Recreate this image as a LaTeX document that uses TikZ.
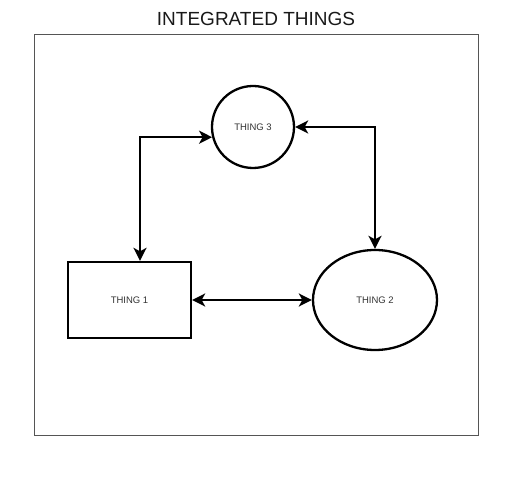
\documentclass[tikz,border=0pt]{standalone}
\usepackage{fontspec}
\setmainfont{Liberation Sans}
\usetikzlibrary{arrows.meta,shapes.geometric}
\definecolor{lbl}{HTML}{333333}
\definecolor{frame}{HTML}{555555}
\tikzset{
  thing/.style={draw=black, line width=2.3pt, inner sep=0pt, text=lbl, font=\fontsize{9.5}{11}\selectfont},
  tip/.tip={Stealth[length=13pt,width=13pt,inset=3.5pt]},
  conn/.style={line width=2.3pt, tip-tip},
}
\begin{document}
\begin{tikzpicture}[x=1pt,y=-1pt]
\useasboundingbox (0,0) rectangle (512,478);
\node[font=\fontsize{19}{22}\selectfont, text=black!90] (title) at (256,19) {INTEGRATED THINGS};
\draw[frame, line width=0.8pt] (34,34) rectangle (478,435);
\node[thing, circle, minimum size=82pt] (t3) at (253,127) {THING 3};
\node[thing, rectangle, minimum width=123pt, minimum height=76pt] (t1) at (129.5,300) {THING 1};
\node[thing, ellipse, minimum width=124pt, minimum height=100pt] (t2) at (375,300) {THING 2};
\draw[conn] (t1.east) -- (t2.west);
\draw[conn] (t3.194) -| ([xshift=10.5pt]t1.north);
\draw[conn] (t3.east) -| (t2.north);
\end{tikzpicture}
\end{document}
